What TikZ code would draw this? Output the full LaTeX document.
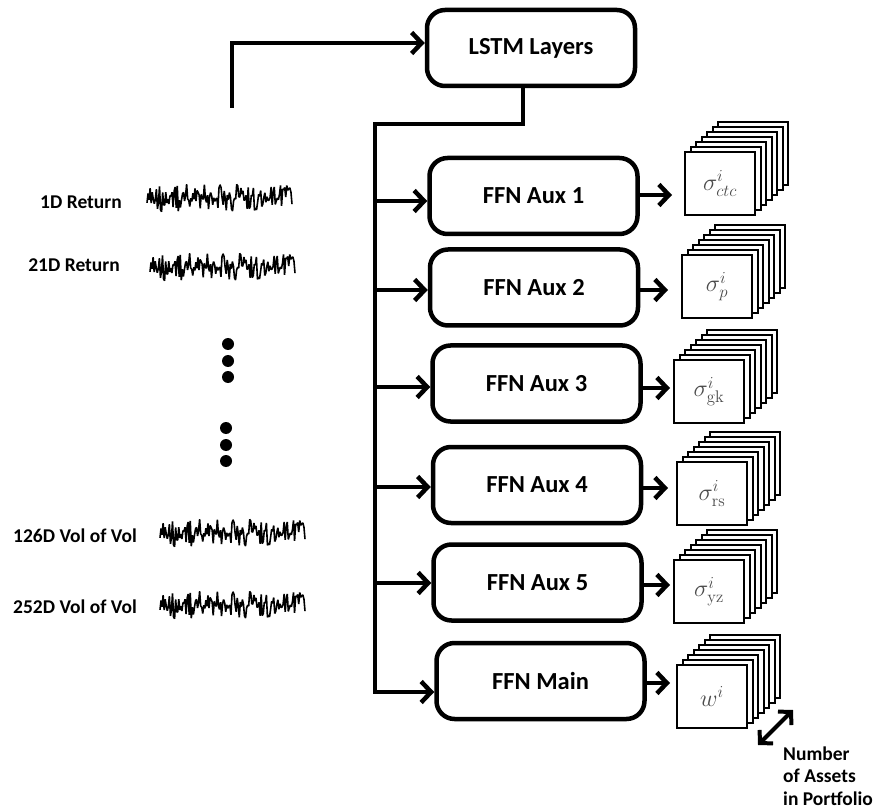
\RequirePackage{fix-cm}
\documentclass[tikz,border=0pt]{standalone}
\usepackage[no-math]{fontspec}
\newfontfamily\lab{Carlito}
\usetikzlibrary{arrows.meta}
\definecolor{mathgray}{RGB}{75,75,75}
\newcommand\stk[4]{%
  \foreach \k in {6,5,...,1}{\draw[layer] ({#2+5.5*\k},{#3-5*\k}) rectangle ++(70,63);}
  \node[front, anchor=north west] (#1) at (#2,#3) {#4};
}
\newcommand\sig[2]{%
  \pgfmathsetseed{2024}%
  \draw[line width=1.6pt, line join=bevel] plot[domain=0:145, samples=140] ({#1+\x},{#2+13*rand+13*rand*rand*rand});
}
\begin{document}
\begin{tikzpicture}[x=1pt,y=-1pt,
  box/.style={draw, line width=4.5pt, rounded corners=18pt, minimum width=208pt, minimum height=76pt, inner sep=0pt, font=\lab\bfseries\fontsize{24.5}{28}\selectfont},
  conn/.style={line width=4.5pt},
  arr/.style={conn, -{Straight Barb[length=10pt,width=21pt]}},
  lbl/.style={font=\lab\bfseries\fontsize{19.5}{23}\selectfont, inner sep=0pt},
  layer/.style={draw, fill=white, line width=2pt},
  front/.style={draw, fill=white, line width=2.2pt, outer sep=0pt, minimum width=70pt, minimum height=63pt, inner sep=0pt, text=mathgray, font=\fontsize{24}{28}\selectfont},
  dot/.style={circle, fill=black, inner sep=0pt, minimum size=12pt}
]
\useasboundingbox (0,0) rectangle (881,810);

% main boxes
\node[box] (lstm) at (531,48) {LSTM Layers};
\node[box] (f1) at (533.5,196) {FFN Aux 1};
\node[box] (f2) at (534,287.5) {FFN Aux 2};
\node[box] (f3) at (536.5,383.5) {FFN Aux 3};
\node[box] (f4) at (537,485) {FFN Aux 4};
\node[box] (f5) at (537.5,582.5) {FFN Aux 5};
\node[box] (fm) at (540.5,681) {FFN Main};

% stacks
\stk{s1}{685}{152}{$\sigma^i_{ctc}$}
\stk{s2}{682}{255}{$\sigma^i_{p}$}
\stk{s3}{674}{360}{$\sigma^i_{\mathrm{gk}}$}
\stk{s4}{677}{462}{$\sigma^i_{\mathrm{rs}}$}
\stk{s5}{674}{560}{$\sigma^i_{\mathrm{yz}}$}
\stk{s6}{677}{665}{$w^i$}

% input to LSTM
\coordinate (src) at (232,108);
\coordinate (lin) at ([yshift=5pt]lstm.west);
\draw[arr] (src) |- (lin);

% bus
\coordinate (bt) at (375,124);
\coordinate (im) at ([yshift=-11pt]fm.west);
\draw[arr, line join=miter] ([xshift=-8pt]lstm.south) |- (bt) |- (im);
\coordinate (i1) at ([yshift=-5pt]f1.west);
\coordinate (i2) at ([yshift=-2.5pt]f2.west);
\coordinate (i3) at ([yshift=-3.5pt]f3.west);
\coordinate (i4) at ([yshift=-2pt]f4.west);
\coordinate (i5) at ([yshift=-0.5pt]f5.west);
\foreach \i in {1,...,5}{\draw[arr] (bt |- i\i) -- (i\i);}

% outputs
\coordinate (o1) at ([yshift=1pt]f1.east);
\coordinate (o2) at ([yshift=-2.5pt]f2.east);
\coordinate (o3) at ([yshift=-4.5pt]f3.east);
\coordinate (o4) at ([yshift=-3pt]f4.east);
\coordinate (o5) at ([yshift=-2.5pt]f5.east);
\coordinate (om) at ([yshift=-2pt]fm.east);
\draw[arr, shorten >=13pt] (o1) -- (o1 -| s1.west);
\draw[arr, shorten >=14pt] (o2) -- (o2 -| s2.west);
\draw[arr, shorten >=4pt] (o3) -- (o3 -| s3.west);
\draw[arr, shorten >=9pt] (o4) -- (o4 -| s4.west);
\draw[arr, shorten >=4pt] (o5) -- (o5 -| s5.west);
\draw[arr, shorten >=7pt] (om) -- (om -| s6.west);

% double arrow and caption
\coordinate (da) at (758,745);
\coordinate (db) at (793,710);
\draw[conn, line width=4pt, {Straight Barb[length=9pt,width=19pt]}-{Straight Barb[length=9pt,width=19pt]}] (da) -- (db);
\node[lbl, anchor=base west] (n1) at (783,760) {Number};
\node[lbl, anchor=base west] (n2) at (783,782) {of Assets};
\node[lbl, anchor=base west] (n3) at (783,805) {in Portfolio};

% left labels
\node[lbl, anchor=base east] (l1) at (122,209) {1D Return};
\node[lbl, anchor=base east] (l2) at (120,272) {21D Return};
\node[lbl, anchor=base east] (l3) at (137,542) {126D Vol of Vol};
\node[lbl, anchor=base east] (l4) at (137,613) {252D Vol of Vol};

% signals
\sig{147}{198}
\sig{150}{267}
\sig{160}{533}
\sig{160}{605}

% dots
\node[dot] (d1) at (228,344) {};
\node[dot] (d2) at (228,361) {};
\node[dot] (d3) at (228,377) {};
\node[dot] (d4) at (226,428) {};
\node[dot] (d5) at (226,445) {};
\node[dot] (d6) at (226,461) {};
\end{tikzpicture}
\end{document}
